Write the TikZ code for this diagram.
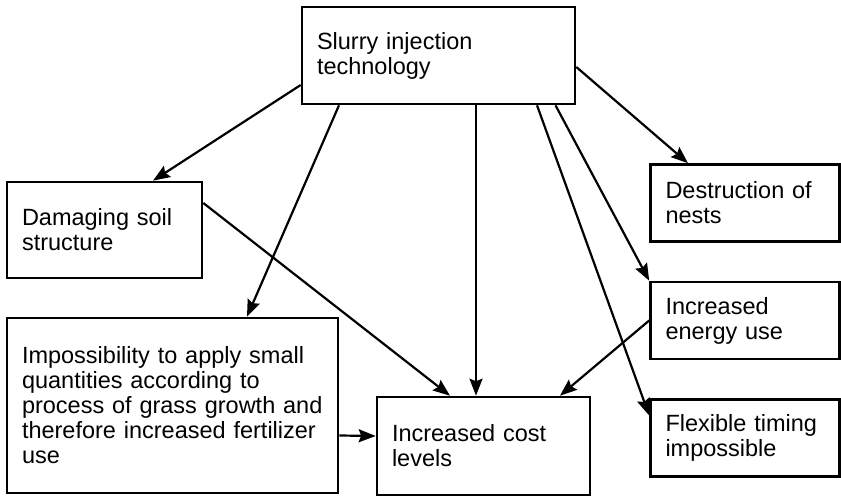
\documentclass[tikz,border=0pt]{standalone}
\usepackage{fontspec}
\setmainfont{Liberation Sans}
\usetikzlibrary{arrows.meta}

\begin{document}
\begin{tikzpicture}[x=1pt,y=-1pt,>={Stealth[length=17pt,width=13pt,inset=2.5pt]},line width=2.2pt,node distance=117.5pt,
  box/.style={draw,line width=2.6pt,align=left,inner xsep=15pt,inner ysep=0pt,font=\fontsize{23.5}{25}\selectfont},
  side/.style={box,text width=159pt,minimum height=77pt}]

\useasboundingbox (0,0) rectangle (841,497);

\node[box,text width=243pt,minimum height=97pt] (tech) at (438.5,55.5) {Slurry injection\\technology};
\node[box,text width=165pt,minimum height=96pt] (soil) at (104.5,230) {Damaging soil\\structure};
\node[side] (nests)  at (745,203) {Destruction of\\nests};
\node[side] (energy) [below of=nests]  {Increased\\energy use};
\node[side] (flex)   [below of=energy] {Flexible timing\\impossible};
\node[box,text width=301pt,minimum height=175pt] (impos) at (172.5,405.5)
  {Impossibility to apply small\\quantities according to\\process of grass growth and\\therefore increased fertilizer\\use};
\node[box,text width=183pt,minimum height=98pt] (cost) at (483.5,446) {Increased cost\\levels};

\path[->]
	([yshift=-29.5pt]tech.west) edge ([xshift=48.5pt]soil.north)
	([xshift=-99.5pt]tech.south) edge ([xshift=74.5pt]impos.north)
	([xshift=37.5pt]tech.south) edge ([xshift=-7.5pt]cost.north)
	([xshift=98.5pt]tech.south) edge ([yshift=22.5pt]flex.west)
	([xshift=117pt]tech.south) edge (energy.north west)
	([yshift=-11.5pt]tech.east) edge ([xshift=-57pt]nests.north);

\path[->]
	([yshift=27pt]soil.east) edge ([xshift=-33.5pt]cost.north)
	(energy.west) edge ([xshift=76.5pt]cost.north)
	([yshift=-30pt]impos.east) edge ([yshift=10pt]cost.west);

\end{tikzpicture}
\end{document}
